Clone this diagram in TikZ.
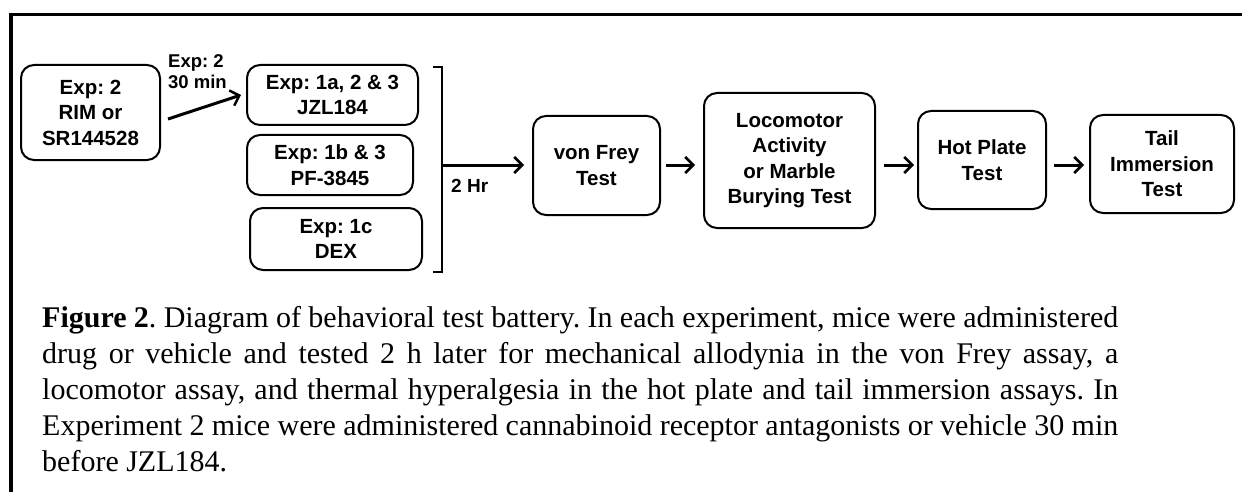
\documentclass[tikz,border=0pt]{standalone}
\usepackage{fontspec}
\setmainfont{Liberation Serif}
\newfontfamily\arialfont{Liberation Sans}
\usetikzlibrary{arrows.meta,calc}
\frenchspacing
\begin{document}
\begin{tikzpicture}[x=1pt,y=-1pt,
  box/.style={draw, line width=2pt, rounded corners=13pt, align=center,
    font=\arialfont\bfseries\frenchspacing\fontsize{20.5}{25.5}\selectfont, inner sep=0pt},
  arr/.style={line width=3pt, -{Straight Barb[length=8pt,width=16pt,line width=2.5pt]}},
  lbl/.style={font=\arialfont\bfseries\frenchspacing\fontsize{18.5}{21}\selectfont, align=left, inner sep=0pt},
  brk/.style={line width=2.5pt},
  frame/.style={line width=3.5pt}]
\useasboundingbox (0,0) rectangle (1242,492);
% frame
\draw[frame] (11,492) -- (11,14.5) -- (1242,14.5);
% boxes
\node[box, minimum width=139pt, minimum height=95pt] (rim) at (90.5,112.5) {Exp: 2\\RIM or\\SR144528};
\node[box, minimum width=171pt, minimum height=60pt] (jzl) at (332.5,95) {Exp: 1a, 2 \& 3\\JZL184};
\node[box, minimum width=166pt, minimum height=60pt] (pf) at (330,165) {Exp: 1b \& 3\\PF-3845};
\node[box, minimum width=172pt, minimum height=62pt] (dex) at (336,239) {Exp: 1c\\DEX};
\node[box, minimum width=127pt, minimum height=99pt] (vf) at (596.5,165.5) {von Frey\\Test};
\node[box, minimum width=171pt, minimum height=135pt] (loco) at (789.5,160.5) {Locomotor\\Activity\\or Marble\\Burying Test};
\node[box, minimum width=128pt, minimum height=98pt] (hot) at (982,160) {Hot Plate\\Test};
\node[box, minimum width=144pt, minimum height=98pt] (tail) at (1162,164) {Tail\\Immersion\\Test};
% bracket
\coordinate (bt) at (433,67);
\coordinate (bb) at (433,272);
\coordinate (bm) at (442,165);
\draw[brk] (bt) -- (bt -| bm) -- (bb -| bm) -- (bb);
% labels
\node[lbl, anchor=west] (l30) at (168,72) {Exp: 2\\30 min};
\node[lbl, anchor=base west, font=\arialfont\bfseries\fontsize{19}{21}\selectfont] (l2h) at (451,192) {2 Hr};
% arrows
\draw[arr] ($(rim.east)+(7,6.5)$) -- ($(jzl.west)+(-5,0)$);
\draw[arr, shorten >=8pt] (bm) -- (bm -| vf.west);
\draw[arr, shorten <=5pt, shorten >=8pt] (vf.east |- bm) -- (loco.west |- bm);
\draw[arr, shorten <=8pt, shorten >=3pt] (loco.east |- bm) -- (hot.west |- bm);
\draw[arr, shorten <=7pt, shorten >=5pt] (hot.east |- bm) -- (tail.west |- bm);
% caption
\node[anchor=north west, inner sep=0pt, text width=1076pt, align=justify,
  font=\frenchspacing\fontsize{30}{36}\selectfont] (cap) at (42,306)
  {\textbf{Figure 2}. Diagram of behavioral test battery. In each experiment, mice were administered\linebreak
  drug or vehicle and tested 2 h later for mechanical allodynia in the von Frey assay, a\linebreak
  locomotor assay, and thermal hyperalgesia in the hot plate and tail immersion assays. In\linebreak
  Experiment 2 mice were administered cannabinoid receptor antagonists or vehicle 30 min\linebreak
  before JZL184.};
\end{tikzpicture}
\end{document}
